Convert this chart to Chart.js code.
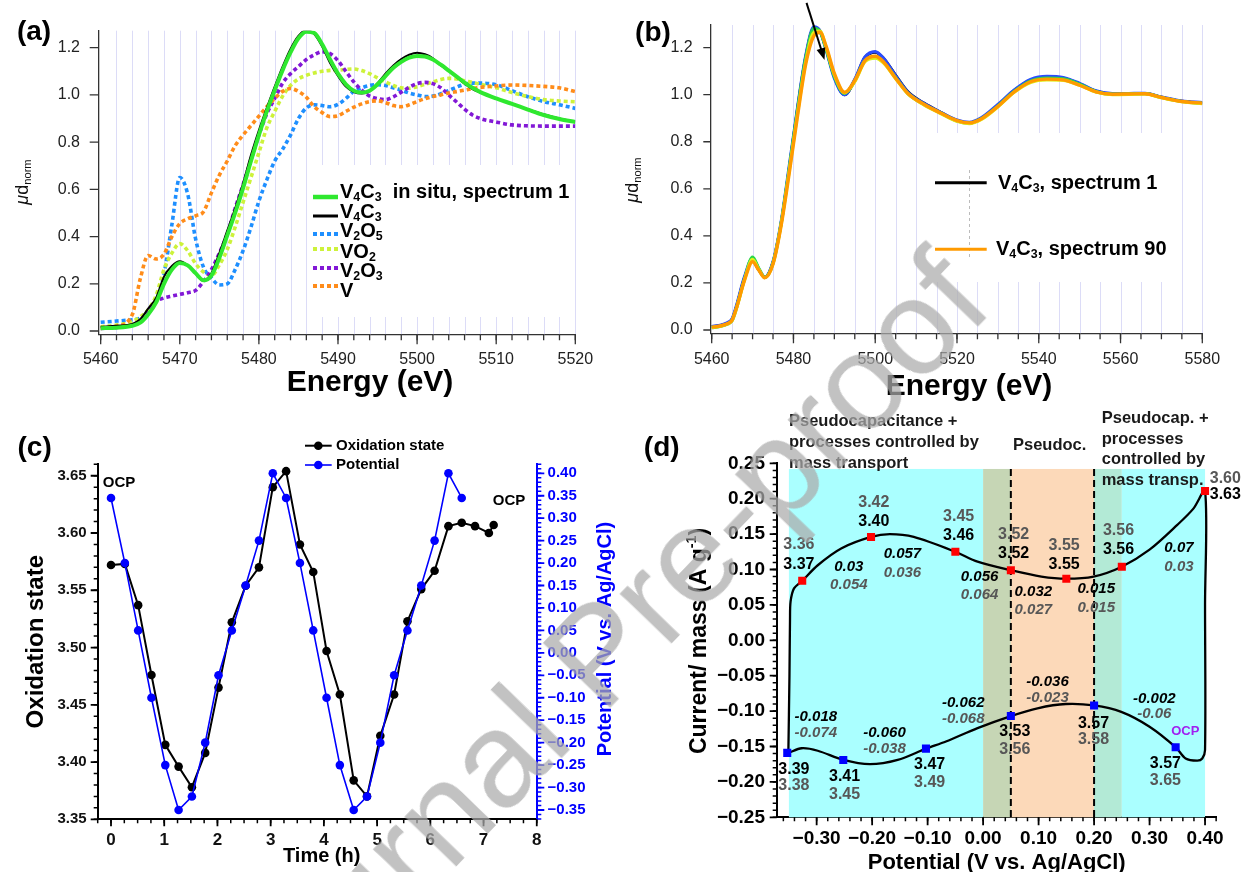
<!DOCTYPE html>
<html><head><meta charset="utf-8">
<script src="https://cdn.jsdelivr.net/npm/chart.js@4.4.1/dist/chart.umd.min.js"></script>
<style>
html,body{margin:0;padding:0;background:#fff;}
body{width:1244px;height:872px;position:relative;overflow:hidden;}
canvas{position:absolute;}
#wm{position:absolute;white-space:nowrap;font-family:'Liberation Sans',Arial,sans-serif;font-size:136px;line-height:160px;height:160px;width:1200px;text-align:center;color:rgba(170,170,170,0.72);pointer-events:none;transform:rotate(-46deg);transform-origin:50% 50%;}
</style></head>
<body>
<canvas id="cA" width="620" height="405" style="left:0;top:0"></canvas>
<canvas id="cB" width="624" height="405" style="left:620px;top:0"></canvas>
<canvas id="cC" width="620" height="467" style="left:0;top:405px"></canvas>
<canvas id="cD" width="624" height="467" style="left:620px;top:405px"></canvas>
<div id="wm" style="left:-3px;top:573px">Journal Pre-proof</div>
<script>
// ================= Panel (a) data =================
const energyA = [5460,5462,5464,5465,5466,5467,5468,5469,5470,5471,5472,5473,5474,5475,5476,5477,5478,5479,5480,5481,5482,5483,5484,5485,5486,5487,5488,5489,5490,5491,5492,5493,5494,5495,5496,5497,5498,5499,5500,5501,5502,5503,5504,5505,5506,5507,5508,5510,5512,5514,5516,5518,5520];
const muV4C3InSitu = [0.012,0.014,0.022,0.035,0.07,0.12,0.2,0.26,0.288,0.278,0.245,0.215,0.235,0.31,0.405,0.5,0.605,0.72,0.83,0.93,1.02,1.105,1.18,1.24,1.268,1.262,1.215,1.15,1.09,1.045,1.018,1.01,1.018,1.045,1.08,1.115,1.14,1.158,1.165,1.163,1.15,1.128,1.103,1.078,1.052,1.03,1.012,0.985,0.962,0.938,0.915,0.898,0.885];
const muV4C3 = [0.018,0.022,0.03,0.05,0.095,0.14,0.23,0.275,0.295,0.278,0.242,0.212,0.245,0.33,0.425,0.52,0.625,0.745,0.85,0.945,1.035,1.12,1.195,1.25,1.275,1.258,1.205,1.135,1.08,1.035,1.012,1.006,1.016,1.05,1.09,1.125,1.152,1.17,1.179,1.172,1.155,1.125,1.102,1.075,1.047,1.025,1.01,0.985,0.962,0.94,0.918,0.9,0.887];
const muV2O5 = [0.037,0.042,0.048,0.054,0.075,0.13,0.24,0.45,0.65,0.58,0.39,0.27,0.225,0.195,0.2,0.26,0.34,0.44,0.55,0.64,0.72,0.77,0.83,0.9,0.945,0.958,0.955,0.95,0.96,0.985,1.015,1.03,1.04,1.043,1.04,1.03,1.02,1.008,1.0,0.993,0.995,1.005,1.018,1.033,1.045,1.05,1.05,1.043,1.018,0.992,0.972,0.958,0.943];
const muVO2 = [0.018,0.025,0.04,0.06,0.09,0.15,0.26,0.33,0.37,0.34,0.285,0.25,0.235,0.28,0.345,0.44,0.545,0.65,0.755,0.86,0.93,0.995,1.04,1.068,1.083,1.093,1.1,1.104,1.105,1.108,1.11,1.103,1.09,1.072,1.055,1.04,1.03,1.028,1.035,1.045,1.055,1.065,1.07,1.068,1.06,1.053,1.045,1.03,1.01,0.993,0.98,0.974,0.971];
const muV2O3 = [0.011,0.015,0.025,0.045,0.08,0.125,0.14,0.148,0.155,0.162,0.172,0.21,0.26,0.33,0.41,0.52,0.62,0.725,0.83,0.92,0.985,1.05,1.09,1.12,1.15,1.17,1.183,1.175,1.145,1.1,1.055,1.02,0.995,0.984,0.98,0.992,1.012,1.032,1.048,1.053,1.048,1.03,1.0,0.97,0.94,0.915,0.9,0.885,0.873,0.869,0.868,0.868,0.868];
const muVmetal = [0.011,0.02,0.07,0.22,0.32,0.305,0.325,0.4,0.455,0.475,0.488,0.505,0.585,0.66,0.72,0.785,0.83,0.87,0.91,0.95,0.985,1.015,1.027,1.015,0.99,0.95,0.925,0.908,0.912,0.93,0.948,0.962,0.972,0.975,0.967,0.955,0.95,0.958,0.972,0.984,0.993,1.0,1.008,1.014,1.02,1.027,1.032,1.038,1.042,1.04,1.036,1.03,1.014];
const energyTicksA = [5460,5470,5480,5490,5500,5510,5520];
const muTicksA = [0,0.2,0.4,0.6,0.8,1.0,1.2];
const legendNamesA = ['V_{4}C_{3}  in situ, spectrum 1','V_{4}C_{3}','V_{2}O_{5}','VO_{2}','V_{2}O_{3}','V'];

// ================= Panel (b) data =================
const energyB = [5460,5462,5464,5465,5466,5468,5470,5471.5,5473,5475,5477,5479,5481,5483,5485,5486.5,5488,5490,5492.5,5495,5497.5,5500,5502,5505,5508,5512,5516,5520,5523,5526,5530,5534,5538,5542,5546,5550,5554,5558,5562,5566,5570,5575,5580];
const muSpectrum1 = [0.014,0.019,0.03,0.045,0.095,0.22,0.295,0.256,0.224,0.287,0.455,0.69,0.94,1.16,1.283,1.27,1.195,1.075,1.0,1.062,1.158,1.18,1.155,1.082,1.012,0.963,0.925,0.89,0.88,0.9,0.955,1.018,1.062,1.074,1.07,1.046,1.015,1.003,1.004,1.005,0.989,0.972,0.965];
const muSpecBlue = [0.015,0.02,0.032,0.048,0.1,0.225,0.305,0.26,0.225,0.29,0.46,0.7,0.945,1.165,1.288,1.27,1.19,1.07,1.0,1.065,1.16,1.183,1.155,1.08,1.01,0.962,0.925,0.892,0.882,0.902,0.958,1.02,1.065,1.078,1.073,1.048,1.016,1.004,1.005,1.006,0.99,0.973,0.966];
const muSpecGreen = [0.01,0.015,0.026,0.04,0.09,0.215,0.31,0.262,0.224,0.285,0.455,0.69,0.935,1.155,1.282,1.268,1.193,1.078,1.005,1.058,1.145,1.158,1.138,1.072,1.005,0.958,0.922,0.888,0.879,0.898,0.952,1.014,1.058,1.07,1.067,1.044,1.013,1.002,1.003,1.004,0.988,0.971,0.963];
const muSpecYellow = [0.011,0.016,0.027,0.041,0.088,0.212,0.3,0.258,0.222,0.282,0.45,0.68,0.92,1.14,1.265,1.27,1.2,1.085,1.008,1.055,1.14,1.155,1.135,1.068,1.003,0.956,0.92,0.887,0.877,0.895,0.948,1.01,1.052,1.063,1.061,1.04,1.011,1.0,1.001,1.003,0.987,0.97,0.962];
const muSpectrum90 = [0.012,0.017,0.028,0.042,0.09,0.21,0.29,0.255,0.222,0.28,0.445,0.67,0.91,1.13,1.25,1.265,1.205,1.09,1.01,1.06,1.145,1.163,1.14,1.07,1.005,0.958,0.922,0.89,0.88,0.898,0.95,1.012,1.055,1.066,1.063,1.04,1.012,1.002,1.003,1.004,0.988,0.971,0.964];
const energyTicksB = [5460,5480,5500,5520,5540,5560,5580];
const muTicksB = [0,0.2,0.4,0.6,0.8,1.0,1.2];
const legendNamesB = ['V_{4}C_{3}, spectrum 1','V_{4}C_{3}, spectrum 90'];

// ================= Panel (c) data =================
const timeH = [0,0.26,0.51,0.76,1.02,1.27,1.52,1.77,2.02,2.27,2.53,2.78,3.04,3.29,3.55,3.80,4.05,4.30,4.56,4.81,5.06,5.32,5.57,5.83,6.08,6.34,6.59,6.84,7.10,7.19];
const oxidationState = [3.572,3.573,3.537,3.476,3.415,3.396,3.378,3.408,3.465,3.522,3.554,3.570,3.640,3.654,3.590,3.566,3.497,3.459,3.384,3.370,3.423,3.459,3.523,3.551,3.567,3.606,3.609,3.606,3.600,3.607];
const potentialV = [0.345,0.20,0.05,-0.10,-0.25,-0.35,-0.32,-0.20,-0.05,0.05,0.15,0.25,0.40,0.345,0.20,0.05,-0.10,-0.25,-0.35,-0.32,-0.20,-0.05,0.05,0.15,0.25,0.40,0.345];
const timeTicks = [0,1,2,3,4,5,6,7,8];
const oxTicks = [3.35,3.40,3.45,3.50,3.55,3.60,3.65];
const potTicks = [-0.35,-0.30,-0.25,-0.20,-0.15,-0.10,-0.05,0,0.05,0.10,0.15,0.20,0.25,0.30,0.35,0.40];
const legendNamesC = ['Oxidation state','Potential'];

// ================= Panel (d) data =================
const cvPotential = [-0.351,-0.349,-0.348,-0.347,-0.341,-0.326,-0.298,-0.255,-0.202,-0.168,-0.125,-0.050,-0.010,0.050,0.105,0.150,0.199,0.250,0.300,0.350,0.379,0.400,0.400,0.400,0.395,0.386,0.365,0.347,0.300,0.249,0.200,0.149,0.098,0.050,-0.010,-0.067,-0.103,-0.154,-0.204,-0.252,-0.298,-0.327,-0.351];
const cvCurrent = [-0.159,-0.050,0.030,0.0546,0.073,0.084,0.106,0.130,0.146,0.150,0.146,0.125,0.111,0.099,0.090,0.087,0.090,0.104,0.128,0.163,0.186,0.211,0.050,-0.155,-0.167,-0.170,-0.167,-0.151,-0.122,-0.101,-0.092,-0.090,-0.096,-0.107,-0.124,-0.143,-0.153,-0.169,-0.175,-0.169,-0.156,-0.1525,-0.159];
const anodicPotential = [-0.326,-0.202,-0.05,0.05,0.15,0.25,0.40];
const anodicCurrent = [0.084,0.146,0.125,0.099,0.087,0.104,0.211];
const cathodicPotential = [-0.353,-0.252,-0.103,0.05,0.20,0.347];
const cathodicCurrent = [-0.159,-0.169,-0.153,-0.107,-0.092,-0.151];
const potTicksD = [-0.30,-0.20,-0.10,0,0.10,0.20,0.30,0.40];
const curTicksD = [-0.25,-0.20,-0.15,-0.10,-0.05,0,0.05,0.10,0.15,0.20,0.25];
const regionEdges = [-0.35,0.0,0.05,0.20,0.25,0.40];
const regionTop = 0.242;
// oxidation-state labels (measured, fitted) and their anchor in data units [potential, yMeasured, yFitted]
const oxAnodicMeasured = ['3.37','3.40','3.46','3.52','3.55','3.56','3.63'];
const oxAnodicFitted   = ['3.36','3.42','3.45','3.52','3.55','3.56','3.60'];
const oxAnodicAnchor = [[-0.332,0.1073,0.1356],[-0.197,0.1675,0.1944],[-0.044,0.1473,0.1746],[0.055,0.1219,0.1487],[0.146,0.1073,0.1336],[0.244,0.1285,0.1548],[0.4365,0.2062,0.2288]];
const oxCathodicMeasured = ['3.39','3.41','3.47','3.53','3.57','3.57'];
const oxCathodicFitted   = ['3.38','3.45','3.49','3.56','3.58','3.65'];
const oxCathodicAnchor = [[-0.341,-0.1822,-0.2058],[-0.2497,-0.1927,-0.2175],[-0.0963,-0.1761,-0.2006],[0.057,-0.1291,-0.154],[0.1989,-0.1172,-0.1408],[0.3285,-0.1737,-0.1983]];
const slopeAnodicMeasured = ['0.03','0.057','0.056','0.032','0.015','0.07'];
const slopeAnodicFitted   = ['0.054','0.036','0.064','0.027','0.015','0.03'];
const slopeAnodicAnchor = [[-0.242,0.104,0.0777],[-0.1454,0.1215,0.0955],[-0.0063,0.0898,0.0636],[0.0905,0.0686,0.0428],[0.2039,0.0725,0.046],[0.353,0.13,0.104]];
const slopeCathodicMeasured = ['-0.018','-0.060','-0.062','-0.036','-0.002'];
const slopeCathodicFitted   = ['-0.074','-0.038','-0.068','-0.023','-0.06'];
const slopeCathodicAnchor = [[-0.3015,-0.1088,-0.1314],[-0.1778,-0.1314,-0.154],[-0.0358,-0.089,-0.1107],[0.116,-0.0593,-0.0819],[0.3086,-0.0833,-0.1041]];
const ocpAnchorD = [0.3644,-0.1281];

// ================= helpers =================
const FONT = "'Liberation Sans', Arial, Helvetica, sans-serif";
function pts(xs, ys){ return ys.map((y,i)=>({x:xs[i], y})); }
function range(a,b,step){ const o=[]; const n=Math.round((b-a)/step); for(let i=0;i<=n;i++) o.push(+(a+i*step).toFixed(6)); return o; }
const f1 = v => v.toFixed(1);
const f0 = v => String(v);
const f2 = v => (v < -1e-9 ? '\u2212' : '') + Math.abs(v).toFixed(2);

function richParts(str){
  const re=/_\{([^}]*)\}|\^\{([^}]*)\}|~\{([^}]*)\}|([^_^~]+)/g; let m; const out=[];
  while((m=re.exec(str))){ if(m[1]!==undefined) out.push({t:m[1],k:'sub'}); else if(m[2]!==undefined) out.push({t:m[2],k:'sup'}); else if(m[3]!==undefined) out.push({t:m[3],k:'n',it:true}); else out.push({t:m[4],k:'n'}); }
  return out;
}
function drawText(ctx, str, x, y, o){
  const size=o.size, weight=o.weight||'normal', style=o.style||'normal';
  const parts=richParts(str); const ss=size*0.62;
  const f = (s,p) => `${p.it?'italic':style} ${weight} ${s}px ${FONT}`;
  ctx.save(); ctx.translate(x,y); if(o.rotate) ctx.rotate(o.rotate);
  let w=0; parts.forEach(p=>{ ctx.font=f(p.k==='n'?size:ss,p); p.w=ctx.measureText(p.t).width; w+=p.w; });
  let cx = o.align==='left'?0:(o.align==='right'?-w:-w/2);
  ctx.fillStyle=o.color||'#000'; ctx.textBaseline='middle'; ctx.textAlign='left';
  parts.forEach(p=>{ ctx.font=f(p.k==='n'?size:ss,p); const dy=p.k==='sub'?size*0.3:(p.k==='sup'?-size*0.36:0); ctx.fillText(p.t,cx,dy); cx+=p.w; });
  ctx.restore();
}
function tickMarks(ch, id, vals, len, color, width){
  const s=ch.scales[id], ctx=ch.ctx, ca=ch.chartArea;
  ctx.save(); ctx.strokeStyle=color; ctx.lineWidth=width; ctx.beginPath();
  vals.forEach(v=>{ const p=s.getPixelForValue(v);
    if(s.isHorizontal()){ ctx.moveTo(p,ca.bottom); ctx.lineTo(p,ca.bottom+len); }
    else if(s.position==='left'){ ctx.moveTo(ca.left,p); ctx.lineTo(ca.left-len,p); }
    else { ctx.moveTo(ca.right,p); ctx.lineTo(ca.right+len,p); }
  });
  ctx.stroke(); ctx.restore();
}
// size = thickness of the axis box (room for its tick labels)
function scaleOpt(pos, size, min, max, tickVals, fmt, font, color, pad, borderColor, borderWidth){
  return {
    type:'linear', position:pos, min, max,
    afterFit: s=>{ if(s.isHorizontal()) s.height=size; else s.width=size; s.paddingLeft=0; s.paddingRight=0; s.paddingTop=0; s.paddingBottom=0; },
    afterBuildTicks: s=>{ s.ticks = tickVals.map(v=>({value:v})); },
    grid:{display:false, drawTicks:false},
    border:{display:true, color:borderColor, width:borderWidth},
    ticks:{autoSkip:false, maxRotation:0, minRotation:0, padding:pad, font, color, callback:v=>fmt(v)}
  };
}
function baseOptions(padding, scales){
  return { responsive:false, animation:false, devicePixelRatio:1, events:[],
    layout:{padding}, plugins:{legend:{display:false}, tooltip:{enabled:false}}, scales };
}
function lineDs(xs, ys, color, width, dash, order){
  return { data:pts(xs,ys), borderColor:color, backgroundColor:color, borderWidth:width, borderDash:dash||[],
    borderCapStyle:'butt', pointRadius:0, showLine:true, fill:false, order, cubicInterpolationMode:'monotone' };
}

// ================= Chart (a) =================
const colA = {insitu:'#2fe82f', v4c3:'#000000', v2o5:'#1e8fff', vo2:'#cdf23a', v2o3:'#8218d6', v:'#ff8c1a'};
const dotted = [4,3];
const dsA = [
  lineDs(energyA, muV4C3InSitu, colA.insitu, 4, null, 0),
  lineDs(energyA, muV4C3, colA.v4c3, 2, null, 1),
  lineDs(energyA, muVmetal, colA.v, 3.6, dotted, 2),
  lineDs(energyA, muV2O3, colA.v2o3, 3.6, dotted, 3),
  lineDs(energyA, muVO2, colA.vo2, 3.6, dotted, 4),
  lineDs(energyA, muV2O5, colA.v2o5, 3.6, dotted, 5)
];
const tickFontA = {family:FONT, size:16};
const plugA = { id:'decoA',
  beforeDatasetsDraw(ch){
    const {ctx, chartArea:ca, scales:{x}} = ch;
    ctx.save(); ctx.strokeStyle='#dcdcf7'; ctx.lineWidth=1;
    range(5462,5520,2).forEach(e=>{ const p=Math.round(x.getPixelForValue(e))+0.5; ctx.beginPath(); ctx.moveTo(p,ca.top); ctx.lineTo(p,ca.bottom); ctx.stroke(); });
    ctx.fillStyle='#fff'; ctx.fillRect(311,165,254,152);
    ctx.restore();
  },
  afterDraw(ch){
    const ctx=ch.ctx;
    tickMarks(ch,'x',range(5460,5520,2),6,'#333',1.3);
    tickMarks(ch,'x',energyTicksA,10,'#333',1.3);
    tickMarks(ch,'y',muTicksA,9,'#333',1.3);
    drawText(ctx,'(a)',34,32,{size:28,weight:'bold'});
    drawText(ctx,'~{\u03bc}d_{norm}',23,182,{size:18,rotate:-Math.PI/2,color:'#111'});
    drawText(ctx,'Energy (eV)',370,383,{size:30,weight:'bold'});
    const lineY=[197,216,234,249,268,286], textY=[192,212,231,252,271,291];
    const styles=[[colA.insitu,4.5,[]],[colA.v4c3,3,[]],[colA.v2o5,4,dotted],[colA.vo2,4,dotted],[colA.v2o3,4,dotted],[colA.v,4,dotted]];
    styles.forEach((s,i)=>{ ctx.save(); ctx.strokeStyle=s[0]; ctx.lineWidth=s[1]; ctx.setLineDash(s[2]); ctx.beginPath(); ctx.moveTo(313,lineY[i]); ctx.lineTo(338,lineY[i]); ctx.stroke(); ctx.restore();
      drawText(ctx,legendNamesA[i],340,textY[i],{size:20,weight:'bold',align:'left'}); });
  }
};
new Chart(document.getElementById('cA'), { type:'scatter', data:{datasets:dsA},
  options: baseOptions({left:0, top:30.7, right:44.7, bottom:0}, {
    x: scaleOpt('bottom',70.7,5459.75,5520,energyTicksA,f0,tickFontA,'#222',16.1,'#333',1.3),
    y: scaleOpt('left',98.7,-0.014,1.272,muTicksA,f1,tickFontA,'#222',18.7,'#333',1.3)
  }), plugins:[plugA] });

// ================= Chart (b) =================
const dsB = [
  lineDs(energyB, muSpectrum90, '#ff9a00', 3.4, null, 0),
  lineDs(energyB, muSpecYellow, '#dff01a', 3.2, null, 1),
  lineDs(energyB, muSpecGreen, '#2ad84a', 3.2, null, 2),
  lineDs(energyB, muSpecBlue, '#2a4cff', 3.2, null, 3),
  lineDs(energyB, muSpectrum1, '#000000', 3, null, 4)
];
const plugB = { id:'decoB',
  beforeDatasetsDraw(ch){
    const {ctx, chartArea:ca, scales:{x}} = ch;
    ctx.save(); ctx.strokeStyle='#dcdcf7'; ctx.lineWidth=1;
    range(5465,5580,5).forEach(e=>{ const p=Math.round(x.getPixelForValue(e))+0.5; ctx.beginPath(); ctx.moveTo(p,ca.top); ctx.lineTo(p,ca.bottom); ctx.stroke(); });
    ctx.fillStyle='#fff'; ctx.fillRect(300,133,262,149);
    ctx.strokeStyle='#bbb'; ctx.setLineDash([3,3]); ctx.beginPath(); ctx.moveTo(349.5,170); ctx.lineTo(349.5,260); ctx.stroke();
    ctx.restore();
  },
  afterDraw(ch){
    const ctx=ch.ctx, {x,y}=ch.scales;
    tickMarks(ch,'x',range(5460,5580,5),6,'#333',1.3);
    tickMarks(ch,'x',energyTicksB,10,'#333',1.3);
    tickMarks(ch,'y',muTicksB,7,'#333',1.3);
    drawText(ctx,'(b)',33,33,{size:28,weight:'bold'});
    drawText(ctx,'~{\u03bc}d_{norm}',13,180,{size:18,rotate:-Math.PI/2,color:'#111'});
    drawText(ctx,'Energy (eV)',349,387,{size:30,weight:'bold'});
    const x1=x.getPixelForValue(5483.2), y1=y.getPixelForValue(1.39), x2=x.getPixelForValue(5487.6), y2=y.getPixelForValue(1.147);
    const ang=Math.atan2(y2-y1,x2-x1);
    ctx.save(); ctx.strokeStyle='#000'; ctx.fillStyle='#000'; ctx.lineWidth=2;
    ctx.beginPath(); ctx.moveTo(x1,y1); ctx.lineTo(x2-9*Math.cos(ang),y2-9*Math.sin(ang)); ctx.stroke();
    ctx.beginPath(); ctx.moveTo(x2,y2); ctx.lineTo(x2-12*Math.cos(ang)+4.5*Math.sin(ang), y2-12*Math.sin(ang)-4.5*Math.cos(ang)); ctx.lineTo(x2-12*Math.cos(ang)-4.5*Math.sin(ang), y2-12*Math.sin(ang)+4.5*Math.cos(ang)); ctx.closePath(); ctx.fill();
    ctx.restore();
    ctx.save(); ctx.lineWidth=3;
    ctx.strokeStyle='#000'; ctx.beginPath(); ctx.moveTo(315,182.7); ctx.lineTo(366.7,182.7); ctx.stroke();
    ctx.strokeStyle='#ff9a00'; ctx.beginPath(); ctx.moveTo(315,249.3); ctx.lineTo(366.7,249.3); ctx.stroke();
    ctx.restore();
    drawText(ctx,legendNamesB[0],378,183,{size:20,weight:'bold',align:'left'});
    drawText(ctx,legendNamesB[1],376,249,{size:20,weight:'bold',align:'left'});
  }
};
new Chart(document.getElementById('cB'), { type:'scatter', data:{datasets:dsB},
  options: baseOptions({left:0, top:25, right:41.7, bottom:0}, {
    x: scaleOpt('bottom',71.7,5459.66,5580,energyTicksB,f0,tickFontA,'#222',17.1,'#333',1.3),
    y: scaleOpt('left',90.3,-0.014,1.296,muTicksB,f1,tickFontA,'#222',17.6,'#333',1.3)
  }), plugins:[plugB] });

// ================= Chart (c) =================
const dsC = [
  { data:pts(timeH,potentialV), yAxisID:'y2', borderColor:'#0000ff', backgroundColor:'#0000ff', borderWidth:1.6, pointRadius:4.3, pointBorderWidth:0, showLine:true, order:0 },
  { data:pts(timeH,oxidationState), yAxisID:'y', borderColor:'#000', backgroundColor:'#000', borderWidth:2, pointRadius:4.3, pointBorderWidth:0, showLine:true, order:1 }
];
const plugC = { id:'decoC',
  afterDraw(ch){
    const ctx=ch.ctx, oy=405;
    tickMarks(ch,'x',range(-0.25,8,0.25),4,'#000',1.5);
    tickMarks(ch,'x',timeTicks,7,'#000',1.8);
    tickMarks(ch,'y',range(3.35,3.66,0.01),4,'#000',1.5);
    tickMarks(ch,'y',oxTicks,7,'#000',1.8);
    tickMarks(ch,'y2',range(-0.37,0.42,0.01),4,'#0000ff',1.5);
    tickMarks(ch,'y2',potTicks,7,'#0000ff',1.8);
    drawText(ctx,'(c)',34.6,448-oy,{size:28,weight:'bold'});
    drawText(ctx,'Oxidation state',36,641.7-oy,{size:24,weight:'bold',rotate:-Math.PI/2});
    drawText(ctx,'Potential (V vs. Ag/AgCl)',605,639-oy,{size:20,weight:'bold',rotate:-Math.PI/2,color:'#0000ff'});
    drawText(ctx,'Time (h)',321.7,856.7-oy,{size:20,weight:'bold'});
    drawText(ctx,'OCP',119,482.7-oy,{size:15,weight:'bold'});
    drawText(ctx,'OCP',509,500.7-oy,{size:15,weight:'bold'});
    const rows=[['#000',445.7,2],['#0000ff',465,1.6]];
    rows.forEach((r,i)=>{ ctx.save(); ctx.strokeStyle=r[0]; ctx.fillStyle=r[0]; ctx.lineWidth=r[2]; ctx.beginPath(); ctx.moveTo(305,r[1]-oy); ctx.lineTo(331.7,r[1]-oy); ctx.stroke();
      ctx.beginPath(); ctx.arc(318.3,r[1]-oy,4.3,0,Math.PI*2); ctx.fill(); ctx.restore();
      drawText(ctx,legendNamesC[i],336,r[1]-oy,{size:15,weight:'bold',align:'left'}); });
  }
};
new Chart(document.getElementById('cC'), { type:'scatter', data:{datasets:dsC},
  options: baseOptions({left:0, top:59.3, right:0, bottom:0}, {
    x: scaleOpt('bottom',52.7,-0.25,8.01,timeTicks,f0,{family:FONT,size:17,weight:'bold'},'#111',10.5,'#000',2),
    y: scaleOpt('left',97.7,3.35,3.66,oxTicks,f2,{family:FONT,size:15,weight:'bold'},'#111',11,'#000',2),
    y2: scaleOpt('right',82.7,-0.3707,0.42,potTicks,f2,{family:FONT,size:15,weight:'bold'},'#0000ff',10.3,'#0000ff',2)
  }), plugins:[plugC] });

// ================= Chart (d) =================
const dsD = [
  { data:pts(anodicPotential,anodicCurrent), backgroundColor:'#ff0000', borderColor:'#ff0000', pointStyle:'rect', pointRadius:5.7, pointBorderWidth:0, showLine:false, order:0 },
  { data:pts(cathodicPotential,cathodicCurrent), backgroundColor:'#0000ff', borderColor:'#0000ff', pointStyle:'rect', pointRadius:5.7, pointBorderWidth:0, showLine:false, order:1 },
  { data:pts(cvPotential,cvCurrent), borderColor:'#000', backgroundColor:'#000', borderWidth:2.3, pointRadius:0, showLine:true, tension:0.3, order:2 }
];
const plugD = { id:'decoD',
  beforeDatasetsDraw(ch){
    const {ctx, chartArea:ca, scales:{x,y}} = ch;
    const top=y.getPixelForValue(regionTop), px=v=>x.getPixelForValue(v);
    const fills=['#aaffff','#c6d6b5','#fcd9b9','#b3ead6','#aaffff'];
    ctx.save();
    for(let i=0;i<regionEdges.length-1;i++){ ctx.fillStyle=fills[i]; ctx.fillRect(px(regionEdges[i]),top,px(regionEdges[i+1])-px(regionEdges[i]),ca.bottom-top); }
    ctx.strokeStyle='#000'; ctx.lineWidth=2; ctx.setLineDash([7,4]);
    [regionEdges[2],regionEdges[3]].forEach(v=>{ ctx.beginPath(); ctx.moveTo(px(v),top); ctx.lineTo(px(v),ca.bottom); ctx.stroke(); });
    ctx.restore();
  },
  afterDraw(ch){
    const ctx=ch.ctx, {x,y}=ch.scales, ox=620, oy=405;
    tickMarks(ch,'x',range(-0.36,0.42,0.02),4,'#000',1.5);
    tickMarks(ch,'x',potTicksD,8,'#000',1.8);
    tickMarks(ch,'y',range(-0.25,0.25,0.01),4,'#000',1.5);
    tickMarks(ch,'y',curTicksD,7,'#000',1.8);
    drawText(ctx,'(d)',661.7-ox,448-oy,{size:28,weight:'bold'});
    const hs={size:16.5,weight:'bold',align:'left',color:'#1a1a1a'};
    drawText(ctx,'Pseudocapacitance +',789-ox,421-oy,hs);
    drawText(ctx,'processes controlled by',789-ox,442-oy,hs);
    drawText(ctx,'mass transport',789-ox,463-oy,hs);
    drawText(ctx,'Pseudoc.',1013-ox,445-oy,hs);
    drawText(ctx,'Pseudocap. +',1101.7-ox,418.5-oy,hs);
    drawText(ctx,'processes',1101.7-ox,439-oy,hs);
    drawText(ctx,'controlled by',1101.7-ox,459.3-oy,hs);
    drawText(ctx,'mass transp.',1101.7-ox,480.7-oy,hs);
    drawText(ctx,'Current/ mass (A g^{-1})',700-ox,641-oy,{size:23,weight:'bold',rotate:-Math.PI/2});
    drawText(ctx,'Potential (V vs. Ag/AgCl)',996.7-ox,863.3-oy,{size:22,weight:'bold'});
    const black='#000', gray='#575757';
    const pair=(txtA,txtB,anchors,opt)=>anchors.forEach((a,i)=>{
      const px=x.getPixelForValue(a[0]);
      drawText(ctx,txtA[i],px,y.getPixelForValue(a[1]),Object.assign({color:black},opt));
      drawText(ctx,txtB[i],px,y.getPixelForValue(a[2]),Object.assign({color:gray},opt));
    });
    const numF={size:16,weight:'bold'}, slF={size:15,weight:'bold',style:'italic'};
    pair(oxAnodicMeasured,oxAnodicFitted,oxAnodicAnchor,numF);
    pair(oxCathodicMeasured,oxCathodicFitted,oxCathodicAnchor,numF);
    pair(slopeAnodicMeasured,slopeAnodicFitted,slopeAnodicAnchor,slF);
    pair(slopeCathodicMeasured,slopeCathodicFitted,slopeCathodicAnchor,slF);
    drawText(ctx,'OCP',x.getPixelForValue(ocpAnchorD[0]),y.getPixelForValue(ocpAnchorD[1]),{size:13,weight:'bold',color:'#a020f0'});
  }
};
new Chart(document.getElementById('cD'), { type:'scatter', data:{datasets:dsD},
  options: baseOptions({left:0, top:58.3, right:27.3, bottom:0}, {
    x: scaleOpt('bottom',54.7,-0.372,0.421,potTicksD,f2,{family:FONT,size:19,weight:'bold'},'#000',9.6,'#000',2),
    y: scaleOpt('left',156.7,-0.25,0.25,curTicksD,f2,{family:FONT,size:19,weight:'bold'},'#000',11.7,'#000',2)
  }), plugins:[plugD] });
</script>
</body></html>
